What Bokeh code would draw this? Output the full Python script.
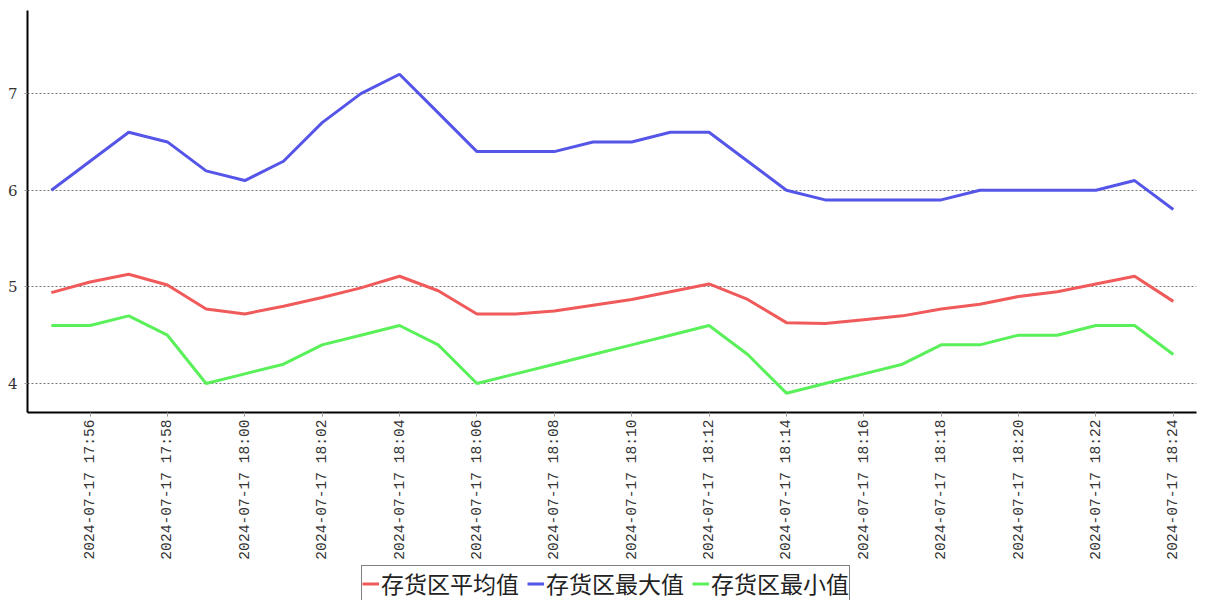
import math
import pandas as pd
from bokeh.plotting import figure
from bokeh.layouts import column
from bokeh.models import (Range1d, FixedTicker, DatetimeTickFormatter, Legend,
                          LegendItem, ColumnDataSource)
from bokeh.embed import file_html
from bokeh.resources import INLINE

# ---- data ----
times = ["2024-07-17 17:55", "2024-07-17 17:56", "2024-07-17 17:57", "2024-07-17 17:58",
         "2024-07-17 17:59", "2024-07-17 18:00", "2024-07-17 18:01", "2024-07-17 18:02",
         "2024-07-17 18:03", "2024-07-17 18:04", "2024-07-17 18:05", "2024-07-17 18:06",
         "2024-07-17 18:07", "2024-07-17 18:08", "2024-07-17 18:09", "2024-07-17 18:10",
         "2024-07-17 18:11", "2024-07-17 18:12", "2024-07-17 18:13", "2024-07-17 18:14",
         "2024-07-17 18:15", "2024-07-17 18:16", "2024-07-17 18:17", "2024-07-17 18:18",
         "2024-07-17 18:19", "2024-07-17 18:20", "2024-07-17 18:21", "2024-07-17 18:22",
         "2024-07-17 18:23", "2024-07-17 18:24"]
avg_vals = [4.94, 5.05, 5.13, 5.02, 4.77, 4.72, 4.80, 4.89, 4.99, 5.11,
            4.96, 4.72, 4.72, 4.75, 4.81, 4.87, 4.95, 5.03, 4.87, 4.63,
            4.62, 4.66, 4.70, 4.77, 4.82, 4.90, 4.95, 5.03, 5.11, 4.85]
max_vals = [6.0, 6.3, 6.6, 6.5, 6.2, 6.1, 6.3, 6.7, 7.0, 7.2,
            6.8, 6.4, 6.4, 6.4, 6.5, 6.5, 6.6, 6.6, 6.3, 6.0,
            5.9, 5.9, 5.9, 5.9, 6.0, 6.0, 6.0, 6.0, 6.1, 5.8]
min_vals = [4.6, 4.6, 4.7, 4.5, 4.0, 4.1, 4.2, 4.4, 4.5, 4.6,
            4.4, 4.0, 4.1, 4.2, 4.3, 4.4, 4.5, 4.6, 4.3, 3.9,
            4.0, 4.1, 4.2, 4.4, 4.4, 4.5, 4.5, 4.6, 4.6, 4.3]
series_names = ["存货区平均值", "存货区最大值", "存货区最小值"]
series_colors = ["#f05a5a", "#5555e8", "#5af05a"]
y_ticks = [4, 5, 6, 7]
x_tick_times = ["2024-07-17 17:56", "2024-07-17 17:58", "2024-07-17 18:00",
                "2024-07-17 18:02", "2024-07-17 18:04", "2024-07-17 18:06",
                "2024-07-17 18:08", "2024-07-17 18:10", "2024-07-17 18:12",
                "2024-07-17 18:14", "2024-07-17 18:16", "2024-07-17 18:18",
                "2024-07-17 18:20", "2024-07-17 18:22", "2024-07-17 18:24"]

x = pd.to_datetime(times)
src = ColumnDataSource(dict(x=x, avg=avg_vals, mx=max_vals, mn=min_vals))

t0 = x[0]
x_start = t0 - pd.Timedelta(seconds=37)
x_end = t0 + pd.Timedelta(seconds=int(29.6 * 60))

p = figure(frame_width=1169, frame_height=402, output_backend="svg",
           toolbar_location=None, x_axis_type="datetime",
           x_range=Range1d(x_start, x_end), y_range=Range1d(3.7, 7.86),
           min_border_left=27, min_border_right=8, min_border_top=10,
           min_border_bottom=147)
p.outline_line_color = None
p.background_fill_color = "white"
p.border_fill_color = "white"

for col, color in zip(["avg", "mx", "mn"], series_colors):
    p.line("x", col, source=src, line_color=color, line_width=3)

# grid
p.xgrid.grid_line_color = None
p.ygrid.grid_line_color = "#777777"
p.ygrid.grid_line_dash = "2 2"
p.ygrid.grid_line_width = 1

# y axis
p.yaxis.ticker = FixedTicker(ticks=y_ticks)
p.yaxis.axis_line_color = "black"
p.yaxis.axis_line_width = 2
p.yaxis.major_tick_out = 3
p.yaxis.major_tick_in = 0
p.yaxis.major_tick_line_color = "#999999"
p.yaxis.minor_tick_line_color = None
p.yaxis.major_label_standoff = 7
p.yaxis.major_label_text_font = "DejaVu Serif"
p.yaxis.major_label_text_font_size = "15px"
p.yaxis.major_label_text_color = "#333333"

# x axis
tick_ms = [pd.Timestamp(t).value / 1e6 for t in x_tick_times]
p.xaxis.ticker = FixedTicker(ticks=tick_ms)
fmt = "%Y-%m-%d %H:%M"
p.xaxis.formatter = DatetimeTickFormatter(
    microseconds=fmt, milliseconds=fmt, seconds=fmt, minsec=fmt, minutes=fmt,
    hourmin=fmt, hours=fmt, days=fmt, months=fmt, years=fmt)
p.xaxis.major_label_orientation = math.pi / 2
p.xaxis.axis_line_color = "black"
p.xaxis.axis_line_width = 2
p.xaxis.major_tick_out = 4
p.xaxis.major_tick_in = 0
p.xaxis.major_tick_line_color = "#999999"
p.xaxis.minor_tick_line_color = None
p.xaxis.major_label_standoff = 3
p.xaxis.major_label_text_font = "Liberation Mono"
p.xaxis.major_label_text_font_size = "14.6px"
p.xaxis.major_label_text_color = "#333333"

# ---- legend strip (separate small figure below the chart) ----
lg = figure(width=1204, height=41, output_backend="svg", toolbar_location=None,
            x_range=Range1d(0, 1), y_range=Range1d(0, 1),
            x_axis_location=None, y_axis_location=None,
            min_border_left=0, min_border_right=0, min_border_top=0,
            min_border_bottom=0)
lg.outline_line_color = None
lg.grid.grid_line_color = None
items = []
for name, color in zip(series_names, series_colors):
    r = lg.line(x=[float("nan")], y=[float("nan")], line_color=color, line_width=3)
    items.append(LegendItem(label=name, renderers=[r]))

legend = Legend(items=items, orientation="horizontal", location=(334, 2),
                label_text_font="Noto Sans CJK SC", label_text_font_size="23px",
                label_text_line_height=1.0,
                label_text_color="#222222",
                glyph_width=17, glyph_height=23, label_height=23,
                label_standoff=2, spacing=8, padding=0, margin=0,
                border_line_color="black", border_line_width=1,
                background_fill_color="white", background_fill_alpha=1.0)
lg.add_layout(legend, "center")

layout = column(p, lg, spacing=0)
open("out.html", "w").write(file_html(layout, INLINE))
